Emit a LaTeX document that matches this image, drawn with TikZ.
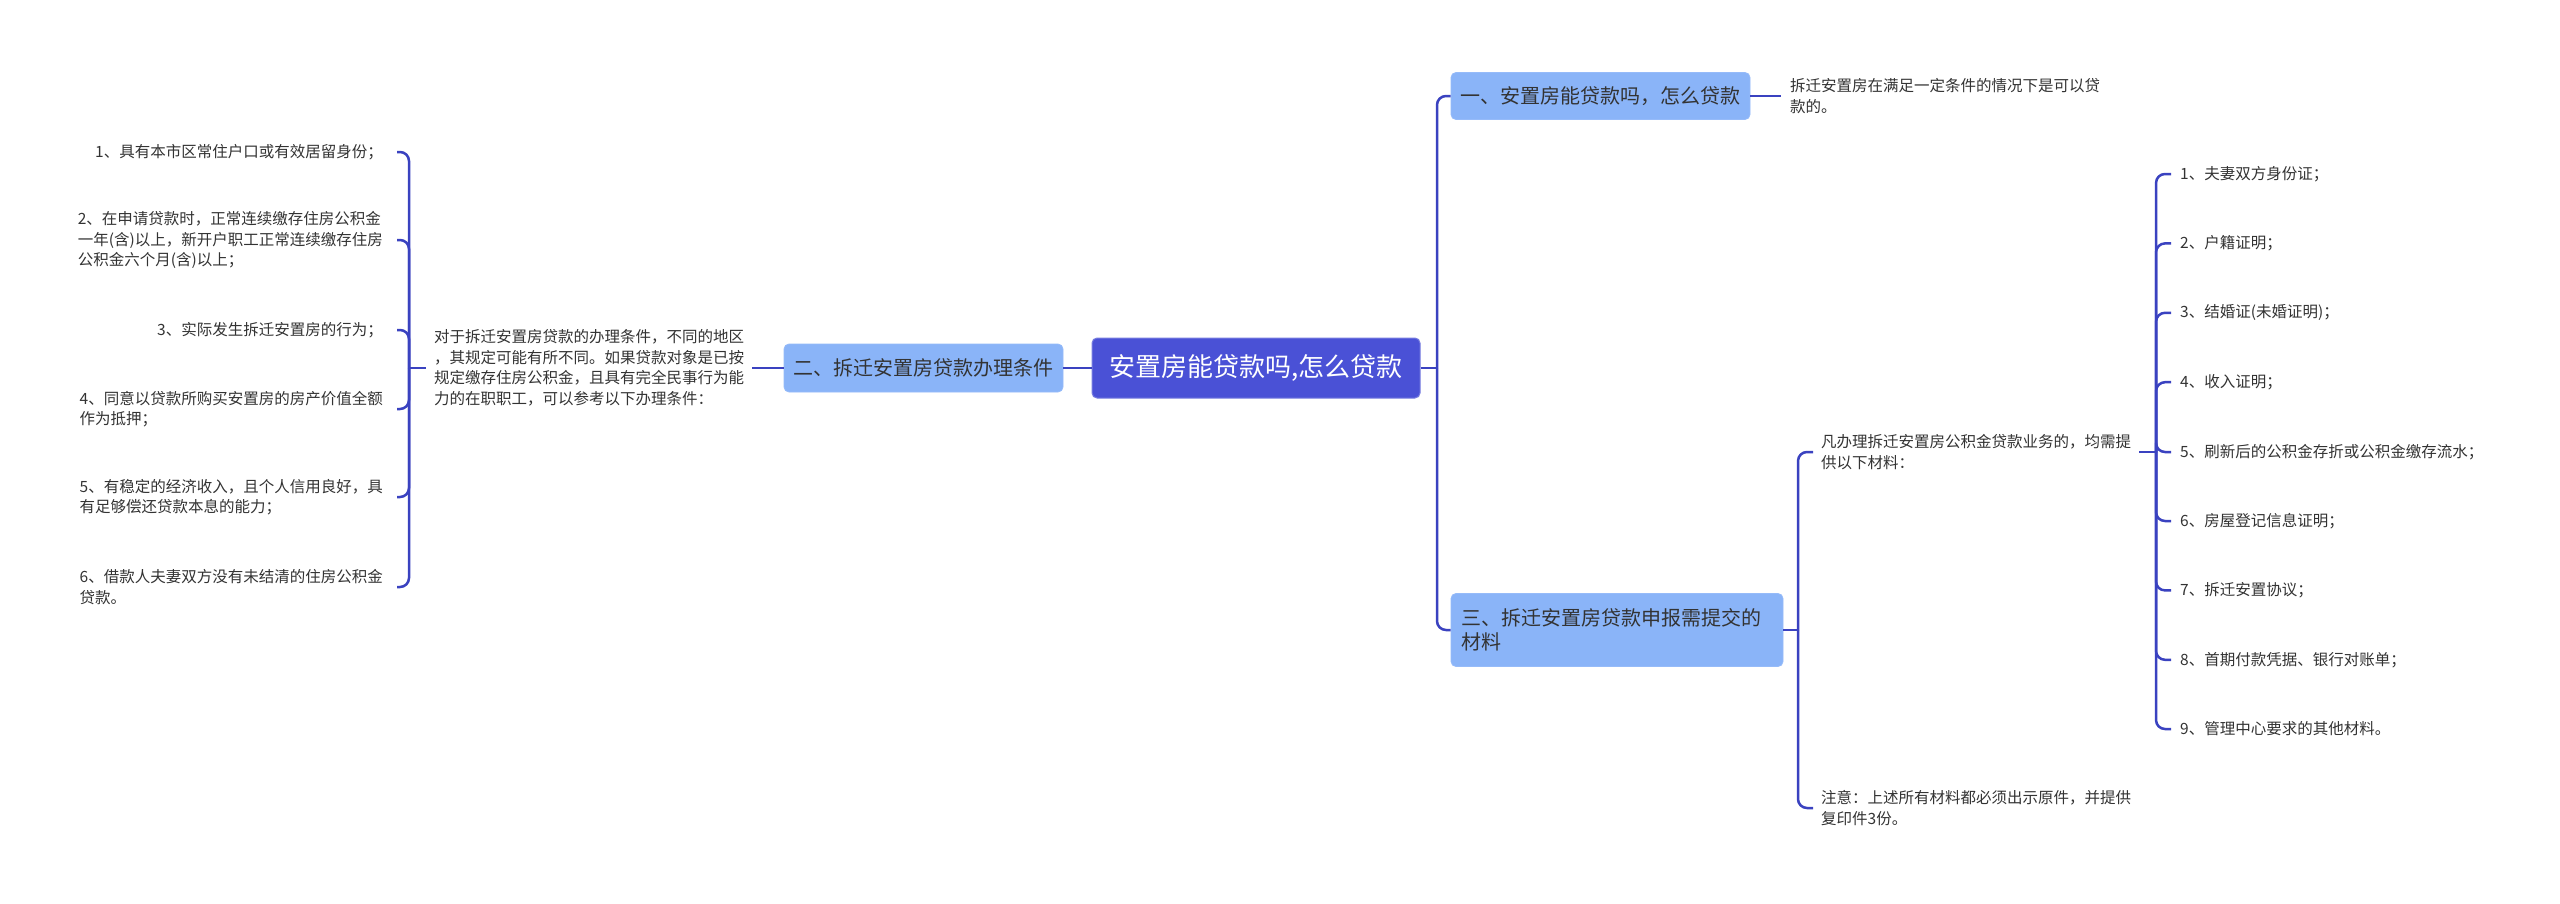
\documentclass[tikz,border=0pt]{standalone}
\usepackage{fontspec}
\setmainfont{Noto Sans CJK SC}
\definecolor{rootc}{HTML}{4A51D6}
\definecolor{branchc}{HTML}{8AB4F8}
\definecolor{linec}{HTML}{3A42C0}
\definecolor{txt}{HTML}{333333}
\begin{document}
\begin{tikzpicture}[x=1pt,y=-1pt,
 conn/.style={draw=linec, line width=2.5pt, rounded corners=9pt},
 rootbox/.style={fill=rootc, draw=rootc!75!white, line width=1pt, rounded corners=5pt, text=white, font=\fontsize{26}{30}\selectfont, minimum width=328pt, minimum height=60pt, inner sep=0pt},
 branch/.style={fill=branchc, draw=branchc!90!white, line width=0.8pt, rounded corners=5pt, text=txt, font=\fontsize{20}{24}\selectfont, inner sep=0pt},
 leaf/.style={text=txt, font=\fontsize{15.5}{20.5}\selectfont, align=left, inner ysep=2pt, inner xsep=8pt},
 lleaf/.style={leaf, anchor=east, inner xsep=14pt},
 rleaf/.style={leaf, anchor=west, inner xsep=9pt},
]
\useasboundingbox (0,0) rectangle (2560,903);
\fill[white] (0,0) rectangle (2560,903);

% root and branches
\node[rootbox] (root) at (1256,368) {安置房能贷款吗,怎么贷款};
\node[branch, minimum width=279pt, minimum height=48pt] (b2) at (923.5,368) {二、拆迁安置房贷款办理条件};
\node[branch, minimum width=299pt, minimum height=47pt] (b1) at (1600.5,96) {一、安置房能贷款吗，怎么贷款};
\node[branch, minimum height=73pt, inner xsep=10pt, text width=312pt, align=left] (b3) at (1617,630) {三、拆迁安置房贷款申报需提交的\\材料};

% left side
\node[leaf] (para) at (589,368) {对于拆迁安置房贷款的办理条件，不同的地区\\，其规定可能有所不同。如果贷款对象是已按\\规定缴存住房公积金，且具有完全民事行为能\\力的在职职工，可以参考以下办理条件：};
\coordinate (jL) at (409,368);
\node[lleaf] (L1) at (397,152) {1、具有本市区常住户口或有效居留身份；};
\node[lleaf] (L2) at (397,240) {2、在申请贷款时，正常连续缴存住房公积金\\一年(含)以上，新开户职工正常连续缴存住房\\公积金六个月(含)以上；};
\node[lleaf] (L3) at (397,330) {3、实际发生拆迁安置房的行为；};
\node[lleaf] (L4) at (397,409) {4、同意以贷款所购买安置房的房产价值全额\\作为抵押；};
\node[lleaf] (L5) at (397,497) {5、有稳定的经济收入，且个人信用良好，具\\有足够偿还贷款本息的能力；};
\node[lleaf] (L6) at (397,587) {6、借款人夫妻双方没有未结清的住房公积金\\贷款。};

% right side
\coordinate (jR) at (1437,368);
\node[rleaf] (d1) at (1781,96) {拆迁安置房在满足一定条件的情况下是可以贷\\款的。};
\coordinate (j3) at (1798,630);
\node[rleaf, inner xsep=8pt] (cA) at (1813,452) {凡办理拆迁安置房公积金贷款业务的，均需提\\供以下材料：};
\node[rleaf, inner xsep=8pt] (cB) at (1813,808) {注意：上述所有材料都必须出示原件，并提供\\复印件3份。};
\coordinate (jA) at (2156,452);
\node[rleaf] (m1) at (2171,174) {1、夫妻双方身份证；};
\node[rleaf] (m2) at (2171,243.4) {2、户籍证明；};
\node[rleaf] (m3) at (2171,312.8) {3、结婚证(未婚证明)；};
\node[rleaf] (m4) at (2171,382.2) {4、收入证明；};
\node[rleaf] (m5) at (2171,452) {5、刷新后的公积金存折或公积金缴存流水；};
\node[rleaf] (m6) at (2171,521) {6、房屋登记信息证明；};
\node[rleaf] (m7) at (2171,590.4) {7、拆迁安置协议；};
\node[rleaf] (m8) at (2171,659.8) {8、首期付款凭据、银行对账单；};
\node[rleaf] (m9) at (2171,729) {9、管理中心要求的其他材料。};

% connectors
\draw[conn] (root.west) -- (b2.east);
\draw[conn] (b2.west) -- (para.east);
\draw[conn] (para.west) -- (jL);
\foreach \n in {L1,L2,L3,L4,L5,L6} { \draw[conn] (jL) |- (\n.east); }
\draw[conn] (root.east) -- (jR);
\draw[conn] (jR) |- (b1.west);
\draw[conn] (jR) |- (b3.west);
\draw[conn] (b1.east) -- (d1.west);
\draw[conn] (b3.east) -- (j3);
\draw[conn] (j3) |- (cA.west);
\draw[conn] (j3) |- (cB.west);
\draw[conn] (cA.east) -- (jA);
\foreach \n in {m1,m2,m3,m4,m5,m6,m7,m8,m9} { \draw[conn] (jA) |- (\n.west); }
\end{tikzpicture}
\end{document}
